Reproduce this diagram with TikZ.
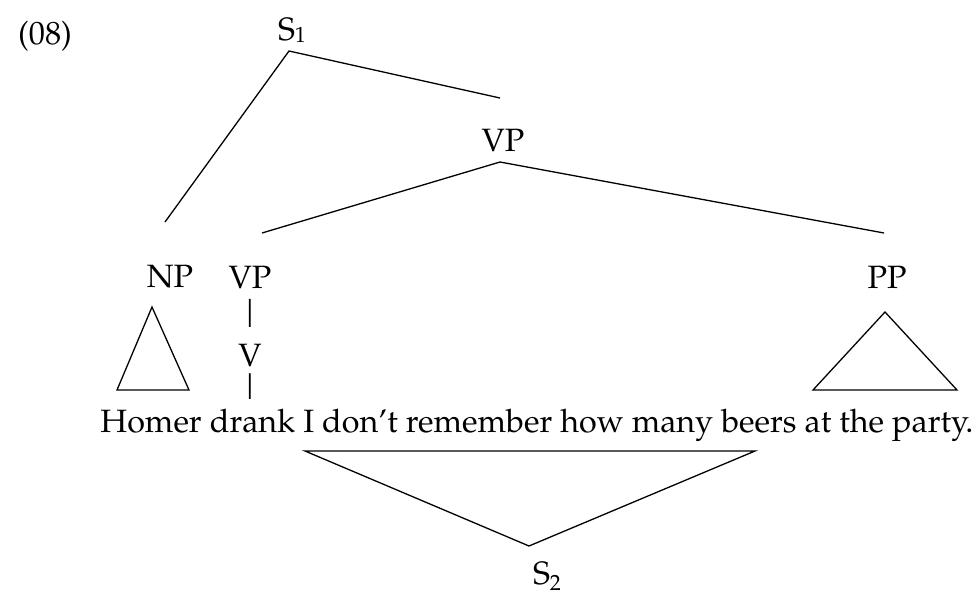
\documentclass[tikz,border=0pt]{standalone}
\usepackage[T1]{fontenc}
\usepackage{mathpazo}
\begin{document}
\begin{tikzpicture}[x=1pt,y=-1pt,
  lbl/.style={inner sep=0pt,font=\fontsize{32.3}{38}\selectfont},
  edge/.style={line width=1.3pt,line join=miter}]
\useasboundingbox (0,0) rectangle (977,598);
\node[lbl] (ex) at (45,36) {(08)};
\node[lbl] (s1) at (292,30) {S\raisebox{-2pt}{\fontsize{22}{22}\selectfont 1}};
\node[lbl] (vp1) at (503,140) {VP};
\node[lbl] (np) at (170,277) {NP};
\node[lbl] (vp2) at (250,277) {VP};
\node[lbl] (pp) at (887,277) {PP};
\node[lbl] (bar1) at (250,313) {\scalebox{1}[1.2]{|}};
\node[lbl] (v) at (250,355) {V};
\node[lbl] (bar2) at (250,387) {\scalebox{1}[1.1]{|}};
\node[lbl,anchor=base] (sent) at (537,432) {Homer drank I don't remember how many beers at the party.};
\node[lbl] (s2) at (547,576) {S\raisebox{-6pt}{\fontsize{22}{22}\selectfont 2}};
\coordinate (s1a) at (289,51);
\coordinate (s1l) at (165,222);
\coordinate (s1r) at (500,98);
\coordinate (vpa) at (500,162);
\coordinate (vpl) at (262,233);
\coordinate (vpr) at (884,233);
\coordinate (npa) at (152,307);
\coordinate (npl) at (117,390);
\coordinate (npr) at (189,390);
\coordinate (ppa) at (885,312);
\coordinate (ppl) at (813,390);
\coordinate (ppr) at (957,390);
\coordinate (s2l) at (305,451);
\coordinate (s2r) at (755,451);
\coordinate (s2a) at (529,546);
\draw[edge] (s1l) -- (s1a) -- (s1r);
\draw[edge] (vpl) -- (vpa) -- (vpr);
\draw[edge] (npa) -- (npl) -- (npr) -- cycle;
\draw[edge] (ppa) -- (ppl) -- (ppr) -- cycle;
\draw[edge] (s2l) -- (s2r) -- (s2a) -- cycle;
\end{tikzpicture}
\end{document}
